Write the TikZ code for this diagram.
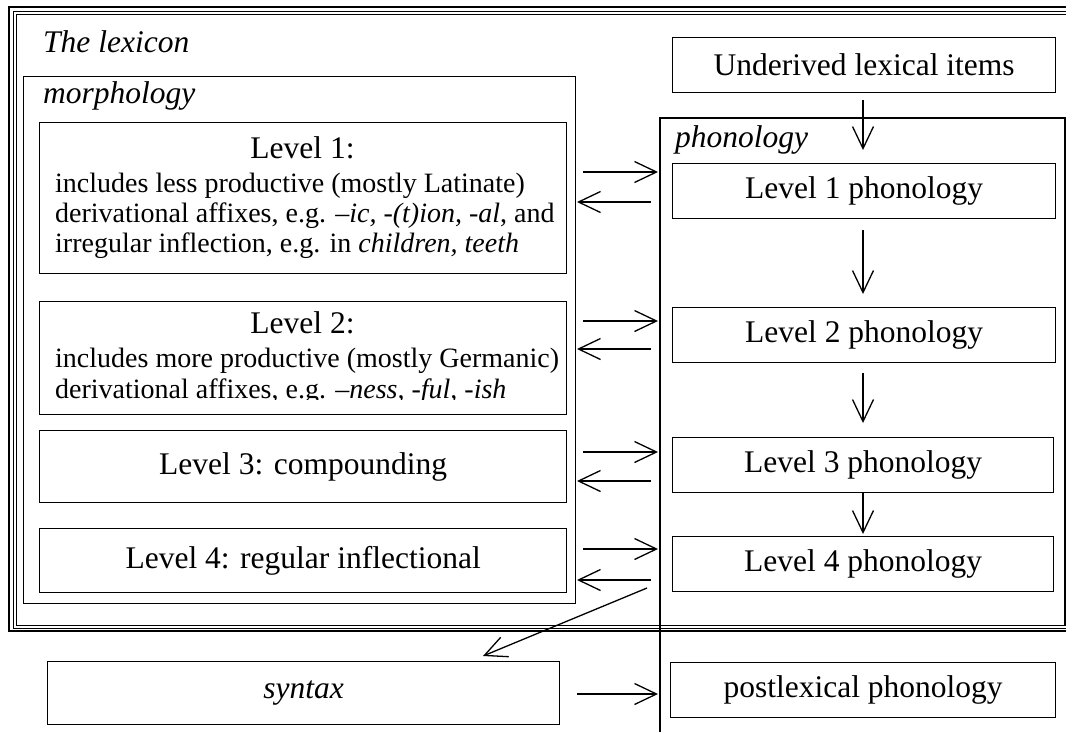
\documentclass[tikz,border=0pt]{standalone}
\usepackage{fontspec}
\setmainfont{Liberation Serif}
\usetikzlibrary{arrows.meta,calc}
\begin{document}
\begin{tikzpicture}[x=1pt,y=-1pt,
  box/.style={draw, line width=1.3pt, inner sep=0pt, anchor=north west},
  big/.style={font=\fontsize{31.5}{36}\selectfont, inner sep=0pt},
  small/.style={font=\fontsize{28}{31}\selectfont, inner sep=0pt},
  lbl/.style={font=\fontsize{31.5}{36}\selectfont\itshape, inner sep=0pt, anchor=base west},
  arr/.style={line width=1.3pt, -{Straight Barb[length=22pt,width=21pt,line width=1.3pt]}},
  thin/.style={line width=1.3pt}]
\useasboundingbox (0,0) rectangle (1066,732);
\clip (0,0) rectangle (1066,732);
% lexicon frame (triple line)
\draw[line width=2pt] (9,7) rectangle (1100,631);
\draw[line width=1pt] (13,11) rectangle (1100,628);
\draw[line width=1pt] (16,14) rectangle (1100,625);
\node[lbl] (lex) at (43,52) {The lexicon};
% morphology
\node[box, minimum width=552pt, minimum height=527pt] (morph) at (23,76) {};
\node[lbl] (morphl) at (43,103) {morphology};
\node[box, minimum width=527pt, minimum height=151pt] (m1) at (39,122) {};
\node[box, minimum width=527pt, minimum height=113pt] (m2) at (39,301) {};
\node[box, minimum width=527pt, minimum height=72pt] (m3) at (39,430) {};
\node[box, minimum width=527pt, minimum height=64pt] (m4) at (39,528) {};
\node[big, anchor=base] (t1) at (302.5,158) {Level 1:};
\node[small, anchor=base west] (t1a) at (55,192) {includes less productive (mostly Latinate)};
\node[small, anchor=base west] (t1b) at (55,222) {derivational affixes, e.g. \textit{–ic, -(t)ion, -al}, and};
\node[small, anchor=base west] (t1c) at (55,252) {irregular inflection, e.g. in \textit{children, teeth}};
\node[big, anchor=base] (t2) at (302.5,333) {Level 2:};
\node[small, anchor=base west] (t2a) at (55,367) {includes more productive (mostly Germanic)};
\begin{scope}
\clip (39,301) rectangle (566,399);
\node[small, anchor=base west] (t2b) at (55,398) {derivational affixes, e.g. \textit{–ness, -ful, -ish}};
\end{scope}
\node[big] (t3) at (m3.center) {Level 3: compounding};
\node[big] (t4) at (m4.center) {Level 4: regular inflectional};
% phonology
\draw[thin] (660,732) -- (660,118) -- (1065,118) -- (1065,625);
\coordinate (phl) at (660,118);
\node[lbl] (phonl) at (675,147) {phonology};
\node[box, minimum width=383pt, minimum height=55pt] (p0) at (672,37) {};
\node[big] at (p0.center) {Underived lexical items};
\node[box, minimum width=383pt, minimum height=55pt] (p1) at (672,163) {};
\node[big] at (p1.center) {Level 1 phonology};
\node[box, minimum width=383pt, minimum height=55pt] (p2) at (672,307) {};
\node[big] at (p2.center) {Level 2 phonology};
\node[box, minimum width=381pt, minimum height=55pt] (p3) at (672,437) {};
\node[big] at (p3.center) {Level 3 phonology};
\node[box, minimum width=381pt, minimum height=55pt] (p4) at (672,536) {};
\node[big] at (p4.center) {Level 4 phonology};
\node[box, minimum width=385pt, minimum height=55pt] (post) at (670,662) {};
\node[big] at (post.center) {postlexical phonology};
\node[box, minimum width=512pt, minimum height=63pt] (syn) at (47,661) {};
\node[big, font=\fontsize{31.5}{36}\selectfont\itshape] at (syn.center) {syntax};
% vertical arrows
\draw[arr] (863,100) -- (863,150);
\draw[arr] (863,230) -- (863,294);
\draw[arr] (863,373) -- (863,423);
\draw[arr] (863,492) -- (863,534);
% horizontal arrows
\foreach \ya/\yb in {172/202, 321/349, 452/481, 549/580}{
  \draw[arr] (583,\ya) -- (658,\ya);
  \draw[arr] (651,\yb) -- (577,\yb);
}
% diagonal to syntax
\coordinate (dstart) at (647,588);
\draw[arr] (dstart) -- (483,656);
% syntax to postlexical
\draw[arr] (577,694) -- (658,694);
\end{tikzpicture}
\end{document}
